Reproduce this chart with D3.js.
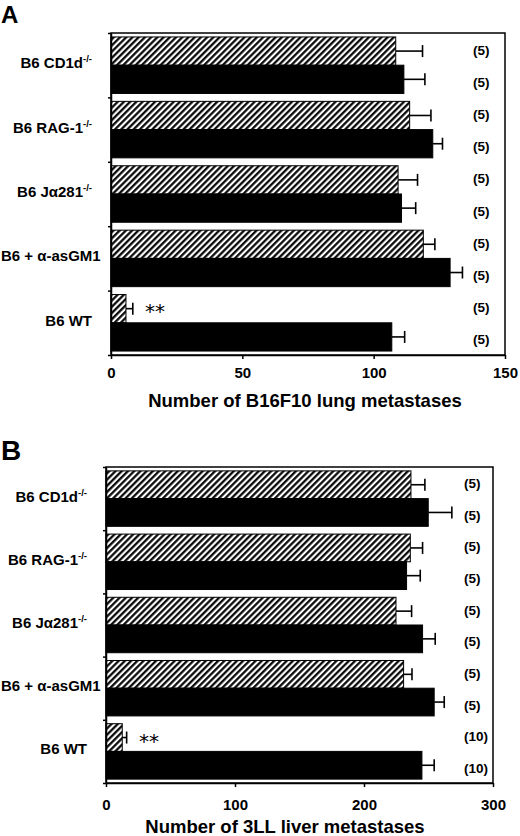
<!DOCTYPE html>
<html>
<head>
<meta charset="utf-8">
<script src="https://cdn.jsdelivr.net/npm/d3@7"></script>
<style>
  body { margin: 0; background: #fff; }
  svg { font-family: 'Liberation Sans', Arial, sans-serif; }
  .axis path, .axis line { stroke: #000; stroke-width: 1.5; }
  .axis text { font-size: 15px; font-weight: bold; fill: #000; font-family: 'Liberation Sans', Arial, sans-serif; }
  .cat-label { font-size: 15px; font-weight: bold; }
  .axis-title { font-size: 18.5px; font-weight: bold; }
  .n-label { font-size: 13.5px; font-weight: bold; }
  .panel-letter { font-weight: bold; }
</style>
</head>
<body>
<svg id="chart"></svg>
<script>
// svg size
const width = 520;
const height = 836;

// groups, top to bottom (same for both panels)
const categories = ['B6 CD1d', 'B6 RAG-1', 'B6 J\u03b1281', 'B6 + \u03b1-asGM1', 'B6 WT'];
const superscripts = ['-/-', '-/-', '-/-', '', ''];

// panel A: B16F10 lung metastases
const hatchedA = [108.4, 113.7, 109.3, 118.9, 5.7];
const hatchedErrA = [10.2, 8.1, 7.4, 4.4, 2.6];
const blackA = [111.5, 122.5, 110.6, 129.1, 106.9];
const blackErrA = [8.0, 3.7, 5.4, 4.7, 4.9];
const nHatchedA = [5, 5, 5, 5, 5];
const nBlackA = [5, 5, 5, 5, 5];
const xTicksA = [0, 50, 100, 150];

// panel B: 3LL liver metastases
const hatchedB = [236.4, 235.9, 224.8, 230.7, 12.6];
const hatchedErrB = [10.8, 9.5, 12.1, 6.5, 3.4];
const blackB = [249.8, 233.0, 245.4, 254.4, 244.9];
const blackErrB = [18.3, 10.6, 9.8, 7.8, 9.5];
const nHatchedB = [5, 5, 5, 5, 10];
const nBlackB = [5, 5, 5, 5, 10];
const xTicksB = [0, 100, 200, 300];

const svg = d3.select('#chart')
  .attr('width', width)
  .attr('height', height);

// diagonal hatching for the first series
const hatchStep = 4.4;
svg.append('defs')
  .append('pattern')
  .attr('id', 'hatch')
  .attr('patternUnits', 'userSpaceOnUse')
  .attr('width', hatchStep)
  .attr('height', hatchStep)
  .attr('patternTransform', 'rotate(45)')
  .call(p => p.append('rect').attr('width', hatchStep).attr('height', hatchStep).attr('fill', '#fff'))
  .append('line')
  .attr('x1', 1.2).attr('y1', 0)
  .attr('x2', 1.2).attr('y2', hatchStep)
  .attr('stroke', '#000')
  .attr('stroke-width', 2.2);

// layout of each panel is hard-coded to match the figure
drawPanel({
  letter: 'A', letterY: 23, letterSize: 24,
  left: 111, right: 505, top: 33, bottom: 355,
  tickPadding: 8, nX: 473,
  title: 'Number of B16F10 lung metastases', titleX: 305, titleY: 407,
  hatched: hatchedA, hatchedErr: hatchedErrA,
  black: blackA, blackErr: blackErrA,
  nHatched: nHatchedA, nBlack: nBlackA, ticks: xTicksA,
  starX: 155, starY: 318
});

drawPanel({
  letter: 'B', letterY: 460, letterSize: 28,
  left: 106, right: 493, top: 467, bottom: 783,
  tickPadding: 12, nX: 464,
  title: 'Number of 3LL liver metastases', titleX: 285, titleY: 833,
  hatched: hatchedB, hatchedErr: hatchedErrB,
  black: blackB, blackErr: blackErrB,
  nHatched: nHatchedB, nBlack: nBlackB, ticks: xTicksB,
  starX: 149, starY: 748
});

/*
 * draws one panel: frame, axes, bars, error bars and labels
 */
function drawPanel(p) {
  const g = svg.append('g');

  const x = d3.scaleLinear()
    .domain([p.ticks[0], p.ticks[p.ticks.length - 1]])
    .range([p.left, p.right]);

  const y = d3.scaleBand()
    .domain(categories)
    .range([p.top, p.bottom]);

  // the two bars inside each group
  const inner = d3.scaleBand()
    .domain(['hatched', 'black'])
    .range([0, y.bandwidth()])
    .paddingOuter(0.14)
    .paddingInner(0);

  const series = [
    { key: 'hatched', values: p.hatched, err: p.hatchedErr, n: p.nHatched, fill: 'url(#hatch)', dy: -1 },
    { key: 'black', values: p.black, err: p.blackErr, n: p.nBlack, fill: '#000', dy: 3 }
  ];

  // panel letter
  g.append('text')
    .attr('class', 'panel-letter')
    .attr('x', 1)
    .attr('y', p.letterY)
    .attr('font-size', p.letterSize + 'px')
    .text(p.letter);

  // bars
  series.forEach(s => {
    const rows = categories.map((c, i) => ({ cat: c, v: s.values[i], e: s.err[i], n: s.n[i] }));
    const yPos = d => y(d.cat) + inner(s.key);
    const yMid = d => yPos(d) + inner.bandwidth() / 2;

    // error bar (upper side only)
    g.append('g').selectAll('line')
      .data(rows)
      .join('line')
      .attr('x1', d => x(d.v))
      .attr('x2', d => x(d.v + d.e))
      .attr('y1', yMid)
      .attr('y2', yMid)
      .attr('stroke', '#000')
      .attr('stroke-width', 1.6);

    g.append('g').selectAll('line')
      .data(rows)
      .join('line')
      .attr('x1', d => x(d.v + d.e))
      .attr('x2', d => x(d.v + d.e))
      .attr('y1', d => yMid(d) - 6)
      .attr('y2', d => yMid(d) + 6)
      .attr('stroke', '#000')
      .attr('stroke-width', 1.6);

    g.append('g').selectAll('rect')
      .data(rows)
      .join('rect')
      .attr('x', x(0))
      .attr('y', yPos)
      .attr('width', d => x(d.v) - x(0))
      .attr('height', inner.bandwidth())
      .attr('fill', s.fill)
      .attr('stroke', '#000')
      .attr('stroke-width', 1);

    // group sizes on the right
    g.append('g').selectAll('text')
      .data(rows)
      .join('text')
      .attr('class', 'n-label')
      .attr('x', p.nX)
      .attr('y', yMid)
      .attr('dy', 4.5 + s.dy)
      .text(d => '(' + d.n + ')');
  });

  // frame around the plot
  g.append('rect')
    .attr('x', p.left)
    .attr('y', p.top)
    .attr('width', p.right - p.left)
    .attr('height', p.bottom - p.top)
    .attr('fill', 'none')
    .attr('stroke', '#000')
    .attr('stroke-width', 1.5);

  // x axis
  const xAxis = d3.axisBottom(x)
    .tickValues(p.ticks)
    .tickSizeInner(4)
    .tickSizeOuter(0)
    .tickPadding(p.tickPadding)
    .tickFormat(d3.format('d'));

  g.append('g')
    .attr('class', 'axis')
    .attr('transform', translate(0, p.bottom))
    .call(xAxis);

  // y axis: small ticks between the groups
  const yEdges = d3.scaleLinear()
    .domain([0, categories.length])
    .range([p.top, p.bottom]);

  const yAxis = d3.axisLeft(yEdges)
    .ticks(categories.length)
    .tickSizeInner(3)
    .tickSizeOuter(0)
    .tickFormat('');

  g.append('g')
    .attr('class', 'axis')
    .attr('transform', translate(p.left, 0))
    .call(yAxis);

  // group labels, with superscripts
  const labelRight = p.left - 19;
  const labels = g.append('g').selectAll('text')
    .data(categories)
    .join('text')
    .attr('class', 'cat-label')
    .attr('x', labelRight)
    .attr('y', d => y(d) + y.bandwidth() / 2 + 3)
    .attr('text-anchor', 'end');

  labels.append('tspan').text(d => d);
  labels.append('tspan')
    .attr('dy', -6)
    .attr('font-size', '9.5px')
    .text((d, i) => superscripts[i]);

  // a label too wide for the margin starts at the page edge instead
  labels.each(function() {
    if (labelRight - this.getComputedTextLength() < 1) {
      d3.select(this).attr('text-anchor', 'start').attr('x', 1);
    }
  });

  // significance mark
  g.append('text')
    .attr('x', p.starX)
    .attr('y', p.starY)
    .attr('text-anchor', 'middle')
    .attr('font-size', '20px')
    .attr('font-family', "'DejaVu Sans', sans-serif")
    .text('**');

  // axis title
  g.append('text')
    .attr('class', 'axis-title')
    .attr('x', p.titleX)
    .attr('y', p.titleY)
    .attr('text-anchor', 'middle')
    .text(p.title);
}

/*
 * returns a translate string for the transform attribute
 */
function translate(x, y) {
  return 'translate(' + String(x) + ',' + String(y) + ')';
}
</script>
</body>
</html>
